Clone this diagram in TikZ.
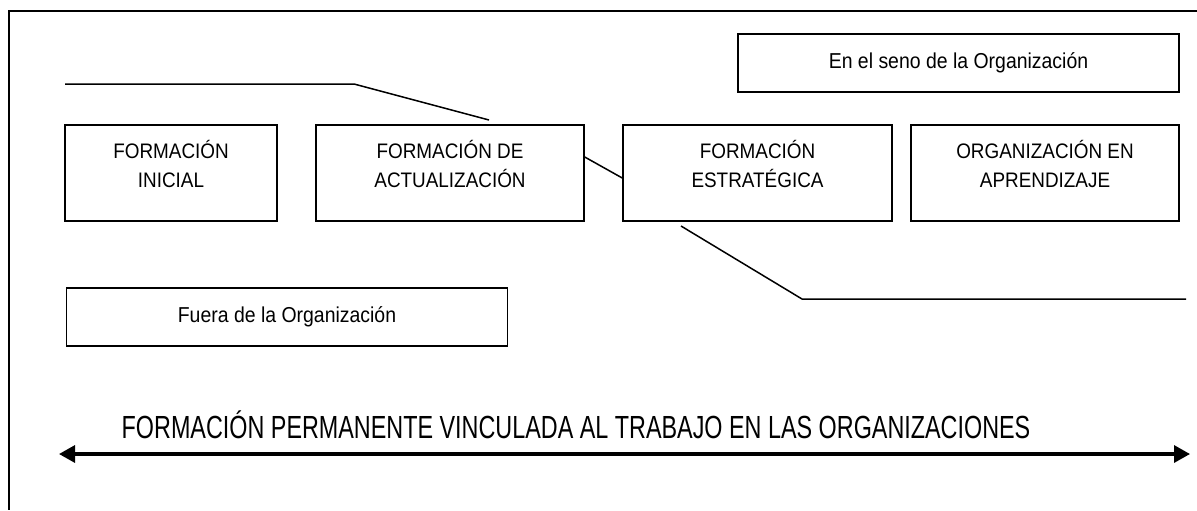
\documentclass[tikz,border=0pt]{standalone}
\usepackage{fontspec}
\setmainfont{Liberation Sans}[FakeStretch=0.9]
\newfontfamily\narrowfont{Liberation Sans}[FakeStretch=0.73]
\usetikzlibrary{arrows.meta}

\begin{document}
\begin{tikzpicture}[x=0.5pt,y=-0.5pt,%%
  lineStyle/.style={-,line width=0.75pt},%%
  arrowStyle/.style={{Triangle[length=8pt,width=8.5pt]}-{Triangle[length=8pt,width=8.5pt]},line width=1.6pt},%%
  stageStyle/.style={draw,line width=0.75pt,inner sep=0pt,align=center,%%
    minimum width=#1,text height=31pt,text depth=17pt,%%
    font=\fontsize{10.5}{14.5}\selectfont},%%
  placeStyle/.style={draw,line width=0.75pt,inner sep=0pt,%%
    minimum width=220.5pt,minimum height=29pt,%%
    font=\fontsize{10.8}{14.5}\selectfont},%%
  titleStyle/.style={inner sep=0pt,anchor=base,font=\narrowfont\fontsize{16}{19}\selectfont}%%
]
%%
\useasboundingbox (0,0) rectangle (1197,510);
%%
\pgfmathsetmacro{\ystage}{173}  %% middle of the row of stages
%%
%% The frame round the picture.
\draw[lineStyle] (1197,11) -- (9,11) -- (9,510);
%%
%% The four stages.
\node[stageStyle=106pt] (inicial) at (171,\ystage) {FORMACIÓN\\INICIAL};
\node[stageStyle=134pt] (actualizacion) at (450,\ystage) {FORMACIÓN DE\\ACTUALIZACIÓN};
\node[stageStyle=134.5pt] (estrategica) at (757.5,\ystage) {FORMACIÓN\\ESTRATÉGICA};
\node[stageStyle=134pt] (aprendizaje) at (1045,\ystage) {ORGANIZACIÓN EN\\APRENDIZAJE};
%%
%% Inside and outside the organization.
\node[placeStyle] (seno) at (958.5,63) {En el seno de la Organización};
\node[placeStyle] (fuera) at (287,317) {Fuera de la Organización};
%%
%% Upper line.
\coordinate (topStart) at (65,84);
\coordinate (topBend) at (354,84);
\coordinate (topEnd) at (489,120);
\draw[lineStyle] (topStart) -- (topBend) -- (topEnd);
%% Between actualizacion and estrategica.
\draw[lineStyle] ([yshift=8pt]actualizacion.east) -- ([yshift=-2.5pt]estrategica.west);
%% Lower line.
\coordinate (lowStart) at (681,226);
\coordinate (lowBend) at (802,299);
\coordinate (lowEnd) at (1186,299);
\draw[lineStyle] (lowStart) -- (lowBend) -- (lowEnd);
%%
%% The axis of permanent training.
\coordinate (axisLeft) at (59,454);
\coordinate (axisRight) at (1190,454);
\draw[arrowStyle] (axisLeft) -- (axisRight);
\node[titleStyle] (titulo) at (576,438) {FORMACIÓN PERMANENTE VINCULADA AL TRABAJO EN LAS ORGANIZACIONES};
\end{tikzpicture}
\end{document}
